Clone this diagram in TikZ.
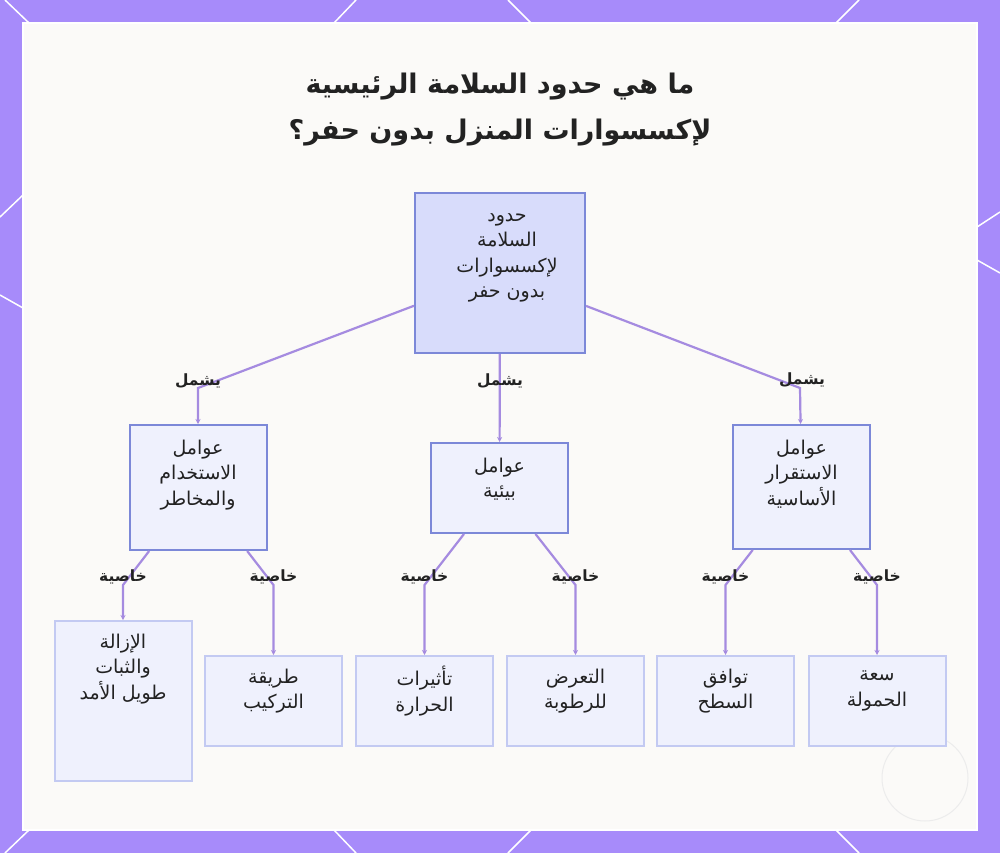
\documentclass[tikz,border=0pt]{standalone}
\usepackage{fontspec}
\usetikzlibrary{arrows.meta}
\TeXXeTstate=1
\newfontfamily\arabicfont[Script=Arabic]{DejaVu Sans}
\newcommand{\artext}[1]{\beginR #1\endR}

\definecolor{framecol}{HTML}{A78BFA}
\definecolor{panelcol}{HTML}{FBFAF8}
\definecolor{rootfill}{HTML}{D8DCFB}
\definecolor{boxfill}{HTML}{EFF1FD}
\definecolor{boxline}{HTML}{7C88D8}
\definecolor{leafline}{HTML}{C3CAF2}
\definecolor{edgecol}{HTML}{A58BE0}
\definecolor{ink}{HTML}{222222}

\begin{document}
\begin{tikzpicture}[
      x=1pt, y=-1pt,
      rootbox/.style={draw=boxline, fill=rootfill, line width=2pt, minimum width=170pt, minimum height=160pt},
      catbox/.style={draw=boxline, fill=boxfill, line width=2pt, minimum width=137pt, minimum height=#1},
      leafbox/.style={draw=leafline, fill=boxfill, line width=2pt, minimum width=137pt, minimum height=#1},
      boxtext/.style={font=\arabicfont\fontsize{19}{25.5}\selectfont, text=ink, align=center, inner sep=0pt},
      edgetext/.style={font=\arabicfont\bfseries\fontsize{15.5}{17}\selectfont, text=ink, inner sep=1pt},
      link/.style={draw=edgecol, line width=2.2pt, -{Stealth[length=5pt,width=5pt]}}
    ]
      % frame and panel
      \useasboundingbox (0,0) rectangle (1000,853);
      \fill[framecol] (0,0) rectangle (1000,853);
      \begin{scope}[draw=white, line width=1.5pt]
        \draw (5,0) -- (29,23);      \draw (356,0) -- (334,23);
        \draw (508,0) -- (531,23);   \draw (859,0) -- (836,23);
        \draw (29,830) -- (5,853);   \draw (334,830) -- (356,853);
        \draw (531,830) -- (508,853); \draw (836,830) -- (859,853);
        \draw (0,217) -- (23,195);   \draw (0,295) -- (23,308);
        \draw (977,227) -- (1000,212); \draw (977,260) -- (1000,273);
      \end{scope}
      \draw[white, fill=panelcol, line width=2pt] (23,23) rectangle (977,830);
      \draw[gray!15, line width=1pt] (925,778) circle (43);

      % title
      \node[font=\arabicfont\bfseries\fontsize{27}{46}\selectfont, text=ink, align=center] (title) at (500,110)
        {\artext{ما هي حدود السلامة الرئيسية}\\\artext{لإكسسوارات المنزل بدون حفر؟}};

      % boxes
      \node[rootbox] (root) at (500,273) {};
      \node[catbox=125pt] (use) at (198,487.5) {};
      \node[catbox=90pt] (env) at (499.5,488) {};
      \node[catbox=124pt] (stab) at (801.5,487) {};
      \node[leafbox=160pt] (removal) at (123,701) {};
      \node[leafbox=90pt] (install) at (273.5,701) {};
      \node[leafbox=90pt] (heat) at (424.5,701) {};
      \node[leafbox=90pt] (humid) at (575.5,701) {};
      \node[leafbox=90pt] (surface) at (725.5,701) {};
      \node[leafbox=90pt] (load) at (877,701) {};

      % box texts
      \node[boxtext] (rootT) at (507,258) {\artext{حدود}\\\artext{السلامة}\\\artext{لإكسسوارات}\\\artext{بدون حفر}};
      \node[boxtext] (useT) at (198,475) {\artext{عوامل}\\\artext{الاستخدام}\\\artext{والمخاطر}};
      \node[boxtext] (envT) at (499.5,479) {\artext{عوامل}\\\artext{بيئية}};
      \node[boxtext] (stabT) at (801.5,474) {\artext{عوامل}\\\artext{الاستقرار}\\\artext{الأساسية}};
      \node[boxtext] (removalT) at (123,669) {\artext{الإزالة}\\\artext{والثبات}\\\artext{طويل الأمد}};
      \node[boxtext] (installT) at (273.5,691) {\artext{طريقة}\\\artext{التركيب}};
      \node[boxtext] (heatT) at (424.5,691) {\artext{تأثيرات}\\\artext{الحرارة}};
      \node[boxtext] (humidT) at (575.5,691) {\artext{التعرض}\\\artext{للرطوبة}};
      \node[boxtext] (surfaceT) at (725.5,691) {\artext{توافق}\\\artext{السطح}};
      \node[boxtext] (loadT) at (877,691) {\artext{سعة}\\\artext{الحمولة}};

      % bends
      \coordinate (bUse) at (198,388);
      \coordinate (bStab) at (800,388);
      \coordinate (bRemoval) at (123,585);
      \coordinate (bInstall) at (273.5,585);
      \coordinate (bHeat) at (424.5,585);
      \coordinate (bHumid) at (575.5,585);
      \coordinate (bSurface) at (725.5,585);
      \coordinate (bLoad) at (877,585);

      % connectors
      \draw[link] (root) -- (bUse) -- (use);
      \draw[link] (root) -- (env);
      \draw[link] (root) -- (bStab) -- (stab);
      \draw[link] (use) -- (bRemoval) -- (removal);
      \draw[link] (use) -- (bInstall) -- (install);
      \draw[link] (env) -- (bHeat) -- (heat);
      \draw[link] (env) -- (bHumid) -- (humid);
      \draw[link] (stab) -- (bSurface) -- (surface);
      \draw[link] (stab) -- (bLoad) -- (load);

      % connector labels
      \node[edgetext] (lUse) at (198,381) {\artext{يشمل}};
      \node[edgetext] (lEnv) at (500,381) {\artext{يشمل}};
      \node[edgetext] (lStab) at (802,380) {\artext{يشمل}};
      \node[edgetext] (lRemoval) at (123,577) {\artext{خاصية}};
      \node[edgetext] (lInstall) at (273.5,577) {\artext{خاصية}};
      \node[edgetext] (lHeat) at (424.5,577) {\artext{خاصية}};
      \node[edgetext] (lHumid) at (575.5,577) {\artext{خاصية}};
      \node[edgetext] (lSurface) at (725.5,577) {\artext{خاصية}};
      \node[edgetext] (lLoad) at (877,577) {\artext{خاصية}};
    \end{tikzpicture}
\end{document}
